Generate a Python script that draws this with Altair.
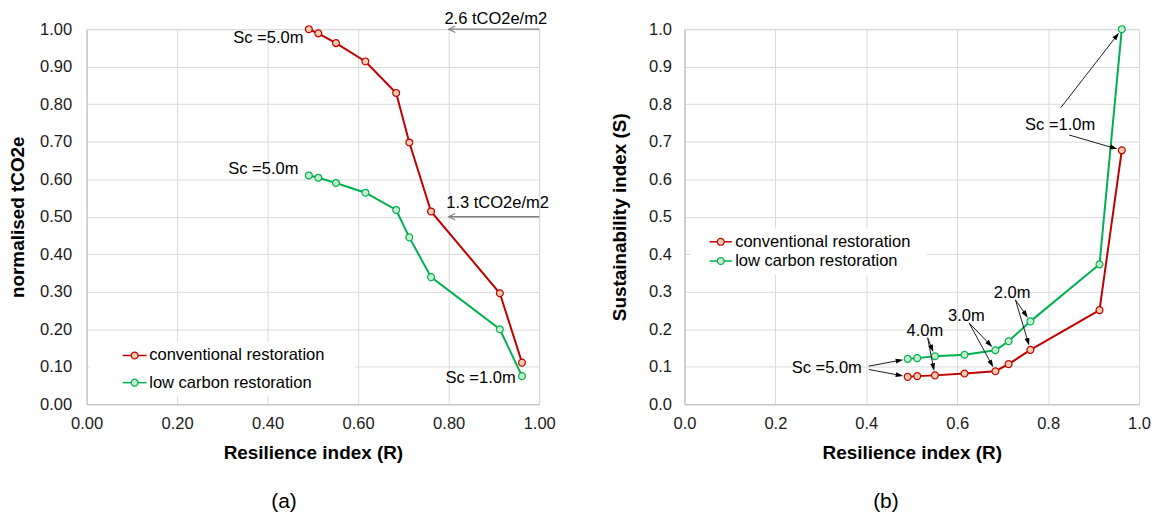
import math
import altair as alt
import pandas as pd

# ---------------- data ----------------
R = [0.491, 0.512, 0.551, 0.616, 0.684, 0.713, 0.761, 0.913, 0.962]
SC = [5.0, 4.5, 4.0, 3.5, 3.0, 2.5, 2.0, 1.5, 1.0]
CONV_T = [1.000, 0.989, 0.963, 0.914, 0.830, 0.698, 0.514, 0.296, 0.111]
LOW_T = [0.610, 0.604, 0.590, 0.564, 0.518, 0.445, 0.339, 0.200, 0.075]
CONV_S = [0.073, 0.075, 0.077, 0.082, 0.088, 0.107, 0.145, 0.251, 0.677]
LOW_S = [0.121, 0.123, 0.128, 0.132, 0.144, 0.168, 0.221, 0.373, 1.000]
SERIES = ["conventional restoration", "low carbon restoration"]
LEGEND_LABELS = ["conventional restoration", "\u00a0low carbon restoration"]

X_TICKS = [0.0, 0.2, 0.4, 0.6, 0.8, 1.0]
Y_TICKS = [0.0, 0.1, 0.2, 0.3, 0.4, 0.5, 0.6, 0.7, 0.8, 0.9, 1.0]

# annotations (text, R, value)
LEFT_NOTES_RIGHT = [("Sc =5.0m", 0.479, 0.976), ("Sc =5.0m", 0.468, 0.628), ("Sc =1.0m", 0.948, 0.071)]
LEFT_NOTES_CENTER = [("2.6 tCO2e/m2", 0.904, 1.028), ("1.3 tCO2e/m2", 0.908, 0.537)]
LEFT_ARROWS = [(1.0, 1.0, 0.80, 1.0), (1.0, 0.5, 0.80, 0.5)]
RIGHT_NOTES = [("Sc =5.0m", 0.313, 0.0955), ("4.0m", 0.529, 0.194), ("3.0m", 0.620, 0.236),
               ("2.0m", 0.7206, 0.296), ("Sc =1.0m", 0.8265, 0.745)]
# (start R, start S, target series, target index)
RIGHT_ARROWS = [(0.4055, 0.1016, 1, 0), (0.4055, 0.0928, 0, 0),
                (0.535, 0.177, 1, 2), (0.535, 0.177, 0, 2),
                (0.626, 0.217, 1, 4), (0.626, 0.217, 0, 4),
                (0.728, 0.2785, 1, 6), (0.728, 0.2785, 0, 6),
                (0.828, 0.791, 1, 8), (0.846, 0.718, 0, 8)]

# ---------------- styles ----------------
LINE_COLORS = ["#c00000", "#00b050"]
FILL_COLORS = ["#f8cbad", "#c6efce"]
FONT = "Liberation Sans"
FS = 16.6
TFS = 19
W1, W2, H = 455, 457, 377

XS = alt.Scale(domain=[0, 1], nice=False, zero=False)
YS = alt.Scale(domain=[0, 1], nice=False, zero=False)


def series_df(conv, low):
    rows = []
    for s, ys in zip(SERIES, [conv, low]):
        for i, (r, v) in enumerate(zip(R, ys)):
            rows.append({"R": r, "v": v, "series": s, "i": i})
    return pd.DataFrame(rows)


def axes(fmt, ytitle, ytitle_pad, ylabel_pad):
    common = dict(format=fmt, grid=True, gridColor="#d9d9d9", domainColor="#bfbfbf",
                  ticks=False, tickSize=0, labelFontSize=FS, labelFont=FONT,
                  labelColor="#1a1a1a", titleFont=FONT, titleFontSize=TFS,
                  titleFontWeight="bold", titleColor="#000", labelOverlap=False,
                  labelFlush=False)
    ax = alt.Axis(values=X_TICKS, tickCount=len(X_TICKS), title="Resilience index (R)",
                  labelPadding=11, titlePadding=12, **common)
    ay = alt.Axis(values=Y_TICKS, tickCount=len(Y_TICKS), title=ytitle,
                  labelPadding=ylabel_pad, titlePadding=ytitle_pad, **common)
    return ax, ay


def arrow_geom(x0, y0, x1, y1, W, gap, head):
    dxp = (x1 - x0) * W
    dyp = (y1 - y0) * H
    L = math.hypot(dxp, dyp)
    ux, uy = dxp / L, dyp / L
    tx, ty = x1 - ux * gap / W, y1 - uy * gap / H
    cx, cy = tx - ux * head / W, ty - uy * head / H
    ang = math.degrees(math.atan2(dxp, dyp)) % 360
    return cx, cy, ang


def legend_layers(sym_x0, sym_x1, rows_y, text_x, box):
    one = pd.DataFrame({"a": [0]})
    out = [alt.Chart(one).mark_rect(fill="white").encode(
        x=alt.value(box[0]), x2=alt.value(box[1]), y=alt.value(box[2]), y2=alt.value(box[3]))]
    for k, yv in enumerate(rows_y):
        d = pd.DataFrame({"label": [LEGEND_LABELS[k]]})
        out.append(alt.Chart(d).mark_rule(color=LINE_COLORS[k], strokeWidth=1.5).encode(
            x=alt.value(sym_x0), x2=alt.value(sym_x1), y=alt.value(yv)))
        out.append(alt.Chart(d).mark_point(shape="circle", filled=True, fill=FILL_COLORS[k],
                                           stroke=LINE_COLORS[k], strokeWidth=1.2, size=48,
                                           opacity=1).encode(
            x=alt.value((sym_x0 + sym_x1) / 2), y=alt.value(yv)))
        out.append(alt.Chart(d).mark_text(align="left", baseline="middle", font=FONT,
                                          fontSize=FS, color="#000").encode(
            x=alt.value(text_x), y=alt.value(yv), text="label:N"))
    return out


def panel(df, fmt, ytitle, W, ytitle_pad, ylabel_pad, legend, extra, label, label_dx):
    ax, ay = axes(fmt, ytitle, ytitle_pad, ylabel_pad)
    X = alt.X("R:Q", scale=XS, axis=ax)
    Y = alt.Y("v:Q", scale=YS, axis=ay)
    base = alt.Chart(df)
    lines = base.mark_line(strokeWidth=2).encode(
        x=X, y=Y,
        color=alt.Color("series:N", scale=alt.Scale(domain=SERIES, range=LINE_COLORS), legend=None),
    )
    points = base.mark_point(filled=True, size=48, strokeWidth=1.2, opacity=1).encode(
        x=X, y=Y,
        fill=alt.Fill("series:N", scale=alt.Scale(domain=SERIES, range=FILL_COLORS), legend=None),
        stroke=alt.Stroke("series:N", scale=alt.Scale(domain=SERIES, range=LINE_COLORS), legend=None),
    )
    layers = [legend[0], lines, points] + [e(X, Y) for e in extra] + legend[1:]
    return alt.layer(*layers).properties(
        width=W, height=H,
        title=alt.TitleParams(text=label, orient="bottom", anchor="middle", frame="group",
                              fontSize=21, fontWeight="normal", font=FONT, color="#000",
                              dx=label_dx, offset=29))


# ---------------- left panel ----------------
df_a = series_df(CONV_T, LOW_T)
notes_r = pd.DataFrame([{"R": x, "v": y, "t": t} for t, x, y in LEFT_NOTES_RIGHT])
notes_c = pd.DataFrame([{"R": x, "v": y, "t": t} for t, x, y in LEFT_NOTES_CENTER])
head_px = 3.3
arr_rows, head_rows = [], []
for x0, y0, x1, y1 in LEFT_ARROWS:
    arr_rows.append({"R": x0, "v": y0, "R2": x1, "v2": y1})
    head_rows.append({"R": x1 + head_px / W1, "v": y1})
left_extra = [
    lambda X, Y: alt.Chart(pd.DataFrame(arr_rows)).mark_rule(color="#808080", strokeWidth=1.3).encode(
        x=X, y=Y, x2="R2:Q", y2="v2:Q"),
    lambda X, Y: alt.Chart(pd.DataFrame(head_rows)).mark_point(
        shape="M1,-1L-1,0L1,1", filled=False, stroke="#808080", strokeWidth=1.2,
        size=(2 * head_px) ** 2, opacity=1).encode(x=X, y=Y),
    lambda X, Y: alt.Chart(notes_r).mark_text(align="right", baseline="middle", font=FONT,
                                              fontSize=FS, color="#000").encode(x=X, y=Y, text="t:N"),
    lambda X, Y: alt.Chart(notes_c).mark_text(align="center", baseline="middle", font=FONT,
                                              fontSize=FS, color="#000").encode(x=X, y=Y, text="t:N"),
]
left_legend = legend_layers(36.3, 60.3, [328, 355.3], 63, (3, 270, 315, 369))
left = panel(df_a, ".2f", "normalised tCO2e", W1, 12, 15, left_legend, left_extra, "(a)", -29)

# ---------------- right panel ----------------
df_b = series_df(CONV_S, LOW_S)
series_vals = [CONV_S, LOW_S]
notes_b = pd.DataFrame([{"R": x, "v": y, "t": t} for t, x, y in RIGHT_NOTES])
rule_rows, tri_rows = [], []
for x0, y0, s, i in RIGHT_ARROWS:
    x1, y1 = R[i], series_vals[s][i]
    cx, cy, ang = arrow_geom(x0, y0, x1, y1, W2, 4.5, 4.0)
    rule_rows.append({"R": x0, "v": y0, "R2": cx, "v2": cy})
    tri_rows.append({"R": cx, "v": cy, "ang": ang})
right_extra = [
    lambda X, Y: alt.Chart(pd.DataFrame(rule_rows)).mark_rule(color="#1a1a1a", strokeWidth=1).encode(
        x=X, y=Y, x2="R2:Q", y2="v2:Q"),
    lambda X, Y: alt.Chart(pd.DataFrame(tri_rows)).mark_point(
        shape="M0,-1L0.62,0.9L-0.62,0.9Z", filled=True, fill="#000", size=64, opacity=1,
        strokeWidth=0).encode(x=X, y=Y, angle=alt.Angle("ang:Q", scale=None)),
    lambda X, Y: alt.Chart(notes_b).mark_text(align="center", baseline="middle", font=FONT,
                                              fontSize=FS, color="#000").encode(x=X, y=Y, text="t:N"),
]
right_legend = legend_layers(25.3, 47.7, [213.7, 233], 51, (6, 244, 200, 247))
right = panel(df_b, ".1f", "Sustainability index (S)", W2, 19, 13, right_legend, right_extra,
              "(b)", -26)

chart = alt.hconcat(left, right, spacing=54).properties(
    padding={"left": 0, "top": 0, "right": 0, "bottom": 0}
).configure_view(stroke=None).configure(font=FONT)

chart.save("out.html", embed_options={"renderer": "svg", "actions": False})
